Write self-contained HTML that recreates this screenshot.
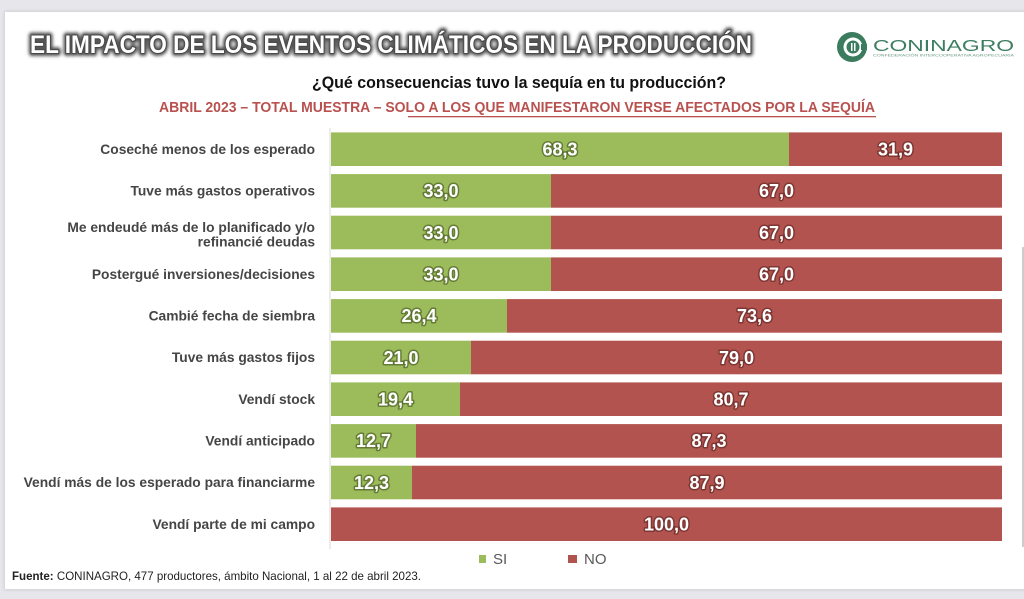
<!DOCTYPE html>
<html><head><meta charset="utf-8"><style>
html,body{margin:0;padding:0;background:#e7e7eb;}
svg{display:block;}
</style></head><body>
<svg width="1024" height="599" viewBox="0 0 1024 599" xmlns="http://www.w3.org/2000/svg" font-family="'Liberation Sans', sans-serif">
<defs>
<filter id="blur1" x="-5%" y="-50%" width="110%" height="200%"><feGaussianBlur stdDeviation="1.6"/></filter>
<filter id="sh" x="-2%" y="-2%" width="104%" height="104%"><feGaussianBlur stdDeviation="1.5"/></filter>
</defs>
<rect x="0" y="0" width="1024" height="599" fill="#e7e7eb"/>
<rect x="4" y="11" width="1024" height="579" fill="#cfcfd4" filter="url(#sh)"/>
<rect x="5" y="12" width="1024" height="577" fill="#ffffff"/>

<!-- Title -->
<text x="30" y="53" font-size="25" font-weight="bold" textLength="722" lengthAdjust="spacingAndGlyphs" fill="#555" stroke="#555" stroke-width="6" stroke-linejoin="round" filter="url(#blur1)">EL IMPACTO DE LOS EVENTOS CLIMÁTICOS EN LA PRODUCCIÓN</text>
<text x="30" y="53" font-size="25" font-weight="bold" textLength="722" lengthAdjust="spacingAndGlyphs" fill="#ffffff" stroke="#4a4a4a" stroke-width="2.2" stroke-linejoin="round" paint-order="stroke">EL IMPACTO DE LOS EVENTOS CLIMÁTICOS EN LA PRODUCCIÓN</text>

<!-- Logo -->
<circle cx="852" cy="47" r="15" fill="#3a7c5d"/>
<circle cx="853" cy="47" r="9.5" fill="#ffffff"/>
<circle cx="853" cy="47" r="6.5" fill="#3a7c5d"/>
<rect x="851" y="43" width="1.5" height="8" fill="#fff"/>
<rect x="854" y="43" width="1.5" height="8" fill="#fff"/>
<rect x="861" y="44" width="6" height="6" fill="#3a7c5d"/>
<text x="873" y="51" font-size="16" fill="#3d7e61" textLength="141" lengthAdjust="spacingAndGlyphs">CONINAGRO</text>
<text x="873" y="56.5" font-size="4" fill="#6a9a84" textLength="141" lengthAdjust="spacingAndGlyphs">CONFEDERACIÓN INTERCOOPERATIVA AGROPECUARIA</text>

<!-- Subtitles -->
<text x="312" y="88" font-size="17" font-weight="bold" fill="#111" textLength="414" lengthAdjust="spacingAndGlyphs">¿Qué consecuencias tuvo la sequía en tu producción?</text>
<text x="159" y="112" font-size="14.5" font-weight="bold" fill="#b9514f" textLength="716" lengthAdjust="spacingAndGlyphs">ABRIL 2023 – TOTAL MUESTRA – SOLO A LOS QUE MANIFESTARON VERSE AFECTADOS POR LA SEQUÍA</text>
<rect x="408" y="116" width="468" height="1.3" fill="#b9514f"/>

<!-- axis lines -->
<rect x="329.5" y="128" width="1" height="421" fill="#d9d9d9"/>
<rect x="1022.5" y="247" width="1" height="300" fill="#9a9a9a"/>

<!-- Bars -->
<g>
<rect x="331" y="132.4" width="458" height="33.6" fill="#9cbb5b"/><rect x="789" y="132.4" width="213" height="33.6" fill="#b3534f"/>
<rect x="331" y="174.1" width="220" height="33.6" fill="#9cbb5b"/><rect x="551" y="174.1" width="451" height="33.6" fill="#b3534f"/>
<rect x="331" y="215.7" width="220" height="33.6" fill="#9cbb5b"/><rect x="551" y="215.7" width="451" height="33.6" fill="#b3534f"/>
<rect x="331" y="257.4" width="220" height="33.6" fill="#9cbb5b"/><rect x="551" y="257.4" width="451" height="33.6" fill="#b3534f"/>
<rect x="331" y="299.1" width="176" height="33.6" fill="#9cbb5b"/><rect x="507" y="299.1" width="495" height="33.6" fill="#b3534f"/>
<rect x="331" y="340.7" width="140" height="33.6" fill="#9cbb5b"/><rect x="471" y="340.7" width="531" height="33.6" fill="#b3534f"/>
<rect x="331" y="382.4" width="129" height="33.6" fill="#9cbb5b"/><rect x="460" y="382.4" width="542" height="33.6" fill="#b3534f"/>
<rect x="331" y="424.1" width="85" height="33.6" fill="#9cbb5b"/><rect x="416" y="424.1" width="586" height="33.6" fill="#b3534f"/>
<rect x="331" y="465.7" width="81" height="33.6" fill="#9cbb5b"/><rect x="412" y="465.7" width="590" height="33.6" fill="#b3534f"/>
<rect x="331" y="507.4" width="671" height="33.6" fill="#b3534f"/>
</g>

<!-- Value labels green -->
<g font-size="18" font-weight="bold" fill="#ffffff" text-anchor="middle" stroke="#4d6126" stroke-width="3" stroke-opacity="0.7" stroke-linejoin="round" paint-order="stroke">
<text x="560" y="155.5">68,3</text>
<text x="441" y="197.2">33,0</text>
<text x="441" y="238.8">33,0</text>
<text x="441" y="280.5">33,0</text>
<text x="419" y="322.2">26,4</text>
<text x="401" y="363.8">21,0</text>
<text x="395.5" y="405.5">19,4</text>
<text x="373.5" y="447.2">12,7</text>
<text x="371.5" y="488.8">12,3</text>
</g>
<!-- Value labels red -->
<g font-size="18" font-weight="bold" fill="#ffffff" text-anchor="middle" stroke="#5a2321" stroke-width="3" stroke-opacity="0.6" stroke-linejoin="round" paint-order="stroke">
<text x="895.5" y="155.5">31,9</text>
<text x="776.5" y="197.2">67,0</text>
<text x="776.5" y="238.8">67,0</text>
<text x="776.5" y="280.5">67,0</text>
<text x="754.5" y="322.2">73,6</text>
<text x="736.5" y="363.8">79,0</text>
<text x="731" y="405.5">80,7</text>
<text x="709" y="447.2">87,3</text>
<text x="707" y="488.8">87,9</text>
<text x="666.5" y="530.5">100,0</text>
</g>

<!-- Category labels -->
<g font-size="13.8" font-weight="bold" fill="#454545" text-anchor="end">
<text x="315" y="153.8">Coseché menos de los esperado</text>
<text x="315" y="195.5">Tuve más gastos operativos</text>
<text x="315" y="232">Me endeudé más de lo planificado y/o</text>
<text x="315" y="246.5">refinancié deudas</text>
<text x="315" y="278.8">Postergué inversiones/decisiones</text>
<text x="315" y="320.5">Cambié fecha de siembra</text>
<text x="315" y="362.2">Tuve más gastos fijos</text>
<text x="315" y="403.8">Vendí stock</text>
<text x="315" y="445.5">Vendí anticipado</text>
<text x="315" y="487.2">Vendí más de los esperado para financiarme</text>
<text x="315" y="528.8">Vendí parte de mi campo</text>
</g>

<!-- Legend -->
<rect x="479" y="555" width="7" height="8" fill="#9cbb5b"/>
<text x="493" y="564" font-size="15" fill="#595959">SI</text>
<rect x="568" y="555" width="9" height="8" fill="#b3534f"/>
<text x="584" y="564" font-size="15" fill="#595959">NO</text>

<!-- Source -->
<text x="12" y="580" font-size="12" fill="#222" textLength="409" lengthAdjust="spacingAndGlyphs"><tspan font-weight="bold">Fuente:</tspan> CONINAGRO, 477 productores, ámbito Nacional, 1 al 22 de abril 2023.</text>
</svg>
</body></html>
